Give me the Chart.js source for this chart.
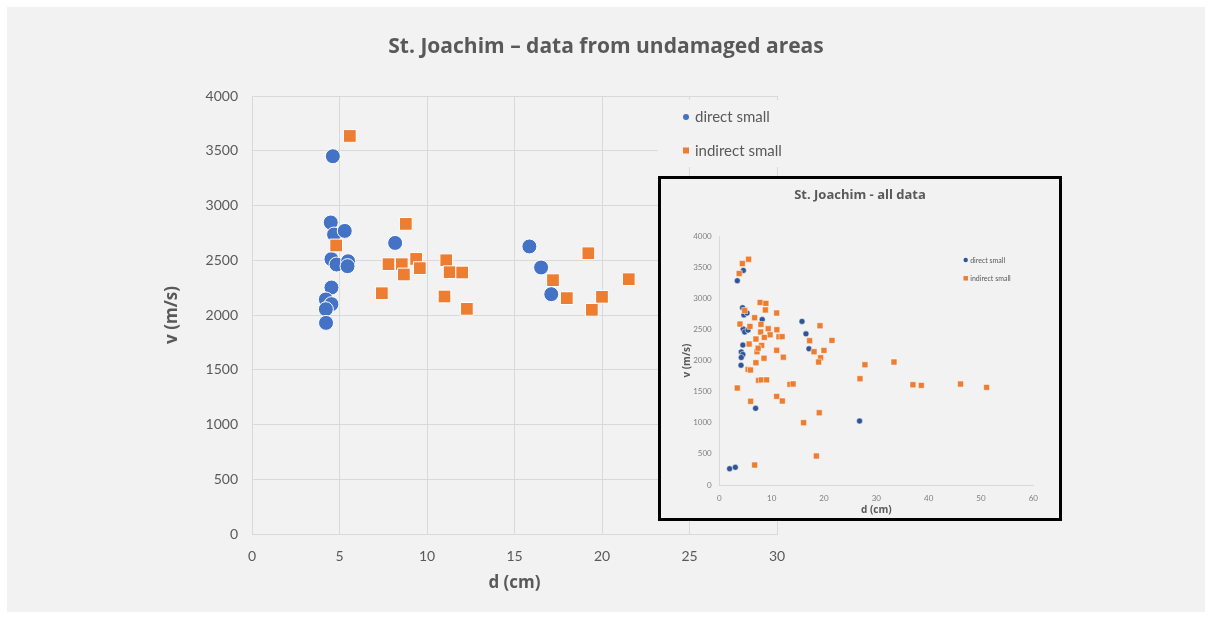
<!DOCTYPE html>
<html lang="en">
<head>
    <meta charset="UTF-8">
    <title>St. Joachim – data from undamaged areas</title>
    <script src="https://cdn.jsdelivr.net/npm/chart.js"></script>
    <style>
        html, body { margin: 0; padding: 0; background: #ffffff; }
        #frame {
            position: absolute; left: 7px; top: 7px;
            width: 1198px; height: 605px;
            background: #f2f2f2;
        }
        #mainChart { position: absolute; left: 0; top: 0; }
        #insetBox {
            position: absolute; left: 658px; top: 176px;
            width: 398px; height: 339px;
            border: 3px solid #000000;
            background: #f2f2f2;
        }
        #insetChart { display: block; }
    </style>
</head>
<body>
<div id="frame"></div>
<canvas id="mainChart" width="1212" height="619"></canvas>
<div id="insetBox"><canvas id="insetChart" width="398" height="339"></canvas></div>

<script>
    // main chart: undamaged areas
    const mainDirectD = [4.62, 4.50, 4.69, 5.30, 4.54, 4.83, 5.49, 5.46, 4.54, 4.22, 4.54, 4.22, 4.23, 8.18, 15.85, 16.52, 17.10];
    const mainDirectV = [3450, 2845, 2735, 2768, 2510, 2461, 2491, 2446, 2251, 2142, 2099, 2053, 1928, 2658, 2626, 2434, 2190];

    const mainIndirectD = [5.59, 8.79, 4.81, 7.80, 8.56, 9.38, 9.59, 8.68, 7.42, 11.10, 11.29, 12.01, 11.00, 12.28, 19.22, 17.20, 17.99, 20.00, 19.42, 21.53];
    const mainIndirectV = [3635, 2832, 2635, 2464, 2464, 2512, 2428, 2370, 2199, 2500, 2391, 2388, 2169, 2056, 2564, 2318, 2154, 2166, 2047, 2327];

    // inset: all data
    const insetDirectD = [4.6, 3.44, 4.45, 4.7, 5.3, 8.2, 15.8, 4.55, 4.85, 5.5, 16.56, 4.5, 17.13, 4.2, 4.5, 4.2, 4.15, 6.94, 26.8, 1.97, 3.06];
    const insetDirectV = [3450, 3284, 2850, 2735, 2765, 2660, 2630, 2510, 2460, 2490, 2430, 2250, 2190, 2140, 2100, 2050, 1925, 1232, 1029, 262, 284];

    const insetIndirectD = [5.6, 4.4, 3.8, 7.8, 8.9, 8.8, 4.85, 10.96, 6.75, 3.95, 7.96, 5.86, 19.24, 9.35, 11.0, 7.9, 9.7, 11.4, 12.0, 8.6,
        7.0, 17.26, 21.53, 5.7, 8.1, 7.2, 10.96, 18.1, 20.0, 12.23, 8.54, 19.36, 7.0, 18.98, 27.83, 33.38, 5.5, 5.95, 26.88, 7.5,
        8.03, 9.04, 13.5, 14.1, 37.0, 38.6, 46.1, 51.08, 3.44, 5.99, 10.96, 12.04, 19.1, 16.11, 18.54, 6.75, 7.42];
    const insetIndirectV = [3630, 3560, 3400, 2935, 2920, 2815, 2805, 2765, 2690, 2587, 2582, 2550, 2561, 2512, 2496, 2459, 2415, 2382, 2385, 2373,
        2346, 2320, 2325, 2266, 2245, 2143, 2165, 2143, 2164, 2055, 2038, 2046, 1966, 1977, 1934, 1977, 1859, 1848, 1709, 1682,
        1690, 1690, 1618, 1625, 1612, 1602, 1623, 1570, 1559, 1345, 1425, 1350, 1162, 1002, 466, 321, 2199];

    const seriesNames = ['direct small', 'indirect small'];
    const mainTitle = 'St. Joachim – data from undamaged areas';
    const insetTitle = 'St. Joachim - all data';
    const xTitle = 'd (cm)';
    const yTitle = 'v (m/s)';

    const FONT = 'Lato, "Open Sans", sans-serif';
    const BOLD = '"Open Sans", Lato, sans-serif';
    Chart.defaults.font.family = FONT;

    function pts(xs, ys) {
        return xs.map((x, i) => ({x: x, y: ys[i]}));
    }

    // plain numbers, no thousands separator
    const plain = v => String(v);

    // legend drawn inside the plot, like the Excel one
    const boxLegend = {
        id: 'boxLegend',
        beforeDatasetsDraw(chart, args, o) {
            const {ctx, chartArea} = chart;
            const x0 = chartArea.right + o.left;
            ctx.save();
            if (o.fill) {
                ctx.fillStyle = o.fill;
                ctx.fillRect(chartArea.right + o.boxLeft, chartArea.top + o.boxTop, o.boxWidth, o.boxHeight);
            }
            ctx.font = o.fontSize + 'px ' + FONT;
            ctx.textBaseline = 'middle';
            chart.data.datasets.forEach((ds, i) => {
                const y = chartArea.top + o.top + i * o.rowGap;
                ctx.fillStyle = ds.backgroundColor;
                if (ds.pointStyle === 'rect') {
                    ctx.fillRect(x0 - o.square / 2, y - o.square / 2, o.square, o.square);
                } else {
                    ctx.beginPath();
                    ctx.arc(x0, y, o.dot, 0, Math.PI * 2);
                    ctx.fill();
                }
                ctx.fillStyle = o.color;
                ctx.fillText(ds.label, x0 + o.textGap, y + 0.5);
            });
            ctx.restore();
        }
    };

    new Chart(document.getElementById('mainChart'), {
        type: 'scatter',
        data: {
            datasets: [{
                label: seriesNames[0],
                data: pts(mainDirectD, mainDirectV),
                pointStyle: 'circle',
                pointRadius: 7.5,
                backgroundColor: '#4472C4',
                borderColor: '#ffffff',
                borderWidth: 1,
                order: 2
            }, {
                label: seriesNames[1],
                data: pts(mainIndirectD, mainIndirectV),
                pointStyle: 'rect',
                pointRadius: 9,
                backgroundColor: '#ED7D31',
                borderColor: '#ffffff',
                borderWidth: 1,
                order: 1
            }]
        },
        options: {
            responsive: false,
            animation: false,
            events: [],
            layout: {padding: {left: 158, right: 158, top: 0, bottom: 22}},
            plugins: {
                legend: {display: false},
                tooltip: {enabled: false},
                title: {
                    display: true,
                    text: mainTitle,
                    color: '#595959',
                    font: {family: BOLD, size: 21, weight: 'bold'},
                    padding: {top: 34, bottom: 36.8}
                },
                boxLegend: {
                    fill: '#f2f2f2',
                    boxLeft: -119, boxTop: 4, boxWidth: 137, boxHeight: 67,
                    left: -91, top: 21, rowGap: 33.5, textGap: 9,
                    dot: 3, square: 6, fontSize: 15, color: '#595959'
                }
            },
            scales: {
                x: {
                    type: 'linear', min: 0, max: 30,
                    ticks: {stepSize: 5, color: '#595959', font: {size: 14}, padding: 14, callback: plain},
                    grid: {color: '#d9d9d9', drawTicks: false},
                    border: {color: '#d9d9d9'},
                    title: {display: true, text: xTitle, color: '#595959', font: {family: BOLD, size: 17, weight: 'bold'}, padding: {top: 0, bottom: 4}},
                    afterFit(s) { s.height = 63; }
                },
                y: {
                    type: 'linear', min: 0, max: 4000,
                    ticks: {stepSize: 500, color: '#595959', font: {size: 14}, padding: 14, callback: plain},
                    grid: {color: '#d9d9d9', drawTicks: false},
                    border: {color: '#d9d9d9'},
                    title: {display: true, text: yTitle, color: '#595959', font: {family: BOLD, size: 17, weight: 'bold'}, padding: {top: 4, bottom: 0}},
                    afterFit(s) { s.width = 94; }
                },
                // empty space on the right, keeps the title centred on the page
                yRight: {
                    type: 'linear', position: 'right', display: true,
                    ticks: {display: false}, grid: {display: false}, border: {display: false},
                    afterFit(s) { s.width = 277; }
                }
            }
        },
        plugins: [boxLegend]
    });

    new Chart(document.getElementById('insetChart'), {
        type: 'scatter',
        data: {
            datasets: [{
                label: seriesNames[0],
                data: pts(insetDirectD, insetDirectV),
                pointStyle: 'circle',
                pointRadius: 3,
                backgroundColor: '#2F5597',
                borderColor: '#ffffff',
                borderWidth: 0.5,
                order: 2
            }, {
                label: seriesNames[1],
                data: pts(insetIndirectD, insetIndirectV),
                pointStyle: 'rect',
                pointRadius: 4.2,
                backgroundColor: '#ED7D31',
                borderColor: '#ffffff',
                borderWidth: 0.5,
                order: 1
            }]
        },
        options: {
            responsive: false,
            animation: false,
            events: [],
            layout: {padding: {left: 25.7, right: 25.7, top: 0, bottom: 2.3}},
            plugins: {
                legend: {display: false},
                tooltip: {enabled: false},
                title: {
                    display: true,
                    text: insetTitle,
                    color: '#595959',
                    font: {family: BOLD, size: 13, weight: 'bold'},
                    padding: {top: 8.2, bottom: 33.4}
                },
                boxLegend: {
                    left: -67.6, top: 23.8, rowGap: 18.3, textGap: 4.5,
                    dot: 2.2, square: 4.5, fontSize: 7, color: '#595959'
                }
            },
            scales: {
                x: {
                    type: 'linear', min: 0, max: 60,
                    ticks: {stepSize: 10, color: '#7f7f7f', font: {size: 8}, padding: 8.5, callback: plain},
                    grid: {display: false, drawTicks: false},
                    border: {color: '#d9d9d9'},
                    title: {display: true, text: xTitle, color: '#595959', font: {family: BOLD, size: 10, weight: 'bold'}, padding: {top: 0, bottom: 0}},
                    afterFit(s) { s.height = 30.7; }
                },
                y: {
                    type: 'linear', min: 0, max: 4000,
                    ticks: {stepSize: 500, color: '#7f7f7f', font: {size: 8}, padding: 7.6, callback: plain},
                    grid: {display: false, drawTicks: false},
                    border: {color: '#d9d9d9'},
                    title: {display: true, text: yTitle, color: '#595959', font: {family: BOLD, size: 10, weight: 'bold'}, padding: {top: -6, bottom: 0}},
                    afterFit(s) { s.width = 32.6; }
                }
            }
        },
        plugins: [boxLegend]
    });
</script>
</body>
</html>
